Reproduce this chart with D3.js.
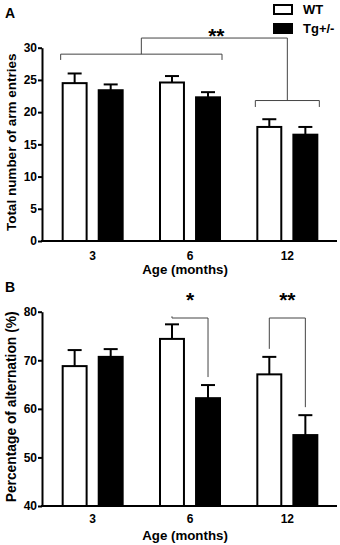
<!DOCTYPE html>
<html>
<head>
<meta charset="utf-8">
<script src="https://cdn.jsdelivr.net/npm/d3@7"></script>
<style>
  body { margin: 0; background: #fff; }
  text { font-family: "Liberation Sans", Arial, sans-serif; font-weight: bold; fill: #000; }
  .axis path, .axis line { stroke: #000; stroke-width: 2; }
  .axis text { font-size: 12px; }
  .bracket { fill: none; stroke: #444; stroke-width: 1; }
</style>
</head>
<body>
<div id="chart"></div>
<script>

// data
var ages = ["3", "6", "12"];
var series = ["WT", "Tg+/-"];

var entriesWT = [24.5, 24.6, 17.7];
var entriesWTsem = [1.5, 1.0, 1.2];
var entriesTg = [23.4, 22.3, 16.5];
var entriesTgsem = [0.9, 0.8, 1.2];

var altWT = [68.8, 74.4, 67.1];
var altWTsem = [3.3, 3.0, 3.6];
var altTg = [70.7, 62.2, 54.6];
var altTgsem = [1.6, 2.7, 4.1];

var entriesTicks = [0, 5, 10, 15, 20, 25, 30];
var altTicks = [40, 50, 60, 70, 80];

window.onload = function () {

  var svg = d3.select("#chart")
              .append("svg")
                .attr("width", 340)
                .attr("height", 545);

  // shared x scales
  var x0 = d3.scaleBand()
             .domain(ages)
             .range([44, 336]);

  var half = x0.bandwidth() / 2;
  var x1 = d3.scaleBand()
             .domain(series)
             .range([half - 31, half + 31])
             .paddingInner(0.28);

  // panel A
  var yA = d3.scaleLinear().domain([0, 30]).range([241, 47.7]);
  draw_panel(svg, x0, x1, yA, entriesTicks,
             [entriesWT, entriesTg], [entriesWTsem, entriesTgsem],
             "Total number of arm entries", "A", 18, 260, 274, 13.5);

  // panel B
  var yB = d3.scaleLinear().domain([40, 80]).range([506, 311.7]);
  draw_panel(svg, x0, x1, yB, altTicks,
             [altWT, altTg], [altWTsem, altTgsem],
             "Percentage of alternation (%)", "B", 292, 523, 540, 13.8);

  // legend
  var legend = svg.append("g").attr("class", "legend");
  series.forEach(function (s, i) {
    legend.append("rect")
      .attr("x", 274)
      .attr("y", 5 + i * 19)
      .attr("width", 18)
      .attr("height", 9)
      .attr("fill", i == 0 ? "#fff" : "#000")
      .attr("stroke", "#000")
      .attr("stroke-width", 2);
    legend.append("text")
      .attr("x", 303)
      .attr("y", 14 + i * 19)
      .style("font-size", "13px")
      .text(s);
  });

  // significance brackets, panel A (3 & 6 vs 12)
  function barLeft(age, s) { return x0(age) + x1(s) - 1; }
  function barRight(age, s) { return x0(age) + x1(s) + x1.bandwidth() + 1; }
  function barMid(age, s) { return x0(age) + x1(s) + x1.bandwidth() / 2; }

  var lx0 = barLeft("3", "WT"), lx1 = barRight("6", "Tg+/-");
  var rx0 = barLeft("12", "WT"), rx1 = barRight("12", "Tg+/-");
  var lmid = (lx0 + lx1) / 2, rmid = (rx0 + rx1) / 2;

  svg.append("path")
    .attr("class", "bracket")
    .attr("d", "M" + lx0 + "," + yA(28.1) + "V" + yA(29) + "H" + lx1 + "V" + yA(28.1) +
               "M" + lmid + "," + yA(29) + "V" + yA(31.5) + "H" + rmid + "V" + yA(21.8) +
               "M" + rx0 + "," + yA(20.8) + "V" + yA(21.8) + "H" + rx1 + "V" + yA(20.8));

  svg.append("text")
    .attr("x", (lmid + rmid) / 2 + 2)
    .attr("y", 42.5)
    .attr("text-anchor", "middle")
    .style("font-size", "21px")
    .text("**");

  // significance brackets, panel B (WT vs Tg at 6 and 12)
  var starsB = { "6": "*", "12": "**" };
  ["6", "12"].forEach(function (age) {
    var k = ages.indexOf(age);
    var wtTop = yB(altWT[k] + altWTsem[k]);
    var tgTop = yB(altTg[k] + altTgsem[k]);
    var xa = barMid(age, "WT"), xb = barMid(age, "Tg+/-");
    var top = yB(78.7);
    svg.append("path")
      .attr("class", "bracket")
      .attr("d", "M" + xa + "," + (wtTop - 8) + "V" + top + "H" + xb + "V" + (tgTop - 8));
    svg.append("text")
      .attr("x", (xa + xb) / 2)
      .attr("y", 306.5)
      .attr("text-anchor", "middle")
      .style("font-size", "21px")
      .text(starsB[age]);
  });

};

function draw_panel(svg, x0, x1, y, ticks, values, sems, ytitle, label, labelY, tickY, titleY, ytitleSize) {

  var g = svg.append("g");
  var base = y.range()[0];
  var sw = 2;

  // bars
  series.forEach(function (s, si) {
    g.selectAll(null)
      .data(ages)
      .enter()
      .append("rect")
        .attr("x", function (d) { return x0(d) + x1(s) + sw / 2; })
        .attr("y", function (d, i) { return y(values[si][i]); })
        .attr("width", x1.bandwidth() - sw)
        .attr("height", function (d, i) { return base - y(values[si][i]); })
        .attr("fill", si == 0 ? "#fff" : "#000")
        .attr("stroke", "#000")
        .attr("stroke-width", sw);

    // error bars (upper only)
    var err = g.selectAll(null)
      .data(ages)
      .enter()
      .append("g");
    err.append("line")
      .attr("x1", function (d) { return x0(d) + x1(s) + x1.bandwidth() / 2; })
      .attr("x2", function (d) { return x0(d) + x1(s) + x1.bandwidth() / 2; })
      .attr("y1", function (d, i) { return y(values[si][i]); })
      .attr("y2", function (d, i) { return y(values[si][i] + sems[si][i]); })
      .attr("stroke", "#000")
      .attr("stroke-width", 2);
    err.append("line")
      .attr("x1", function (d) { return x0(d) + x1(s) + x1.bandwidth() / 2 - 7; })
      .attr("x2", function (d) { return x0(d) + x1(s) + x1.bandwidth() / 2 + 7; })
      .attr("y1", function (d, i) { return y(values[si][i] + sems[si][i]); })
      .attr("y2", function (d, i) { return y(values[si][i] + sems[si][i]); })
      .attr("stroke", "#000")
      .attr("stroke-width", 2);
  });

  // y axis
  g.append("g")
    .attr("class", "axis")
    .attr("transform", "translate(42,0)")
    .call(d3.axisLeft(y).tickValues(ticks).tickSize(4).tickSizeOuter(0).tickPadding(1));

  // x axis line
  g.append("line")
    .attr("x1", 41)
    .attr("x2", 337)
    .attr("y1", base)
    .attr("y2", base)
    .attr("stroke", "#000")
    .attr("stroke-width", 2);

  // x tick labels
  g.selectAll(null)
    .data(ages)
    .enter()
    .append("text")
      .attr("x", function (d) { return x0(d) + x0.bandwidth() / 2; })
      .attr("y", tickY)
      .attr("text-anchor", "middle")
      .style("font-size", "12px")
      .text(function (d) { return d; });

  // x title
  g.append("text")
    .attr("x", 185)
    .attr("y", titleY)
    .attr("text-anchor", "middle")
    .style("font-size", "13.3px")
    .text("Age (months)");

  // y title
  var mid = (y.range()[0] + y.range()[1]) / 2;
  g.append("text")
    .attr("transform", "translate(16," + (mid - 2) + ") rotate(-90)")
    .attr("text-anchor", "middle")
    .style("font-size", ytitleSize + "px")
    .text(ytitle);

  // panel letter
  g.append("text")
    .attr("x", 5)
    .attr("y", labelY)
    .style("font-size", "14px")
    .text(label);

  return g;
}

</script>
</body>
</html>
